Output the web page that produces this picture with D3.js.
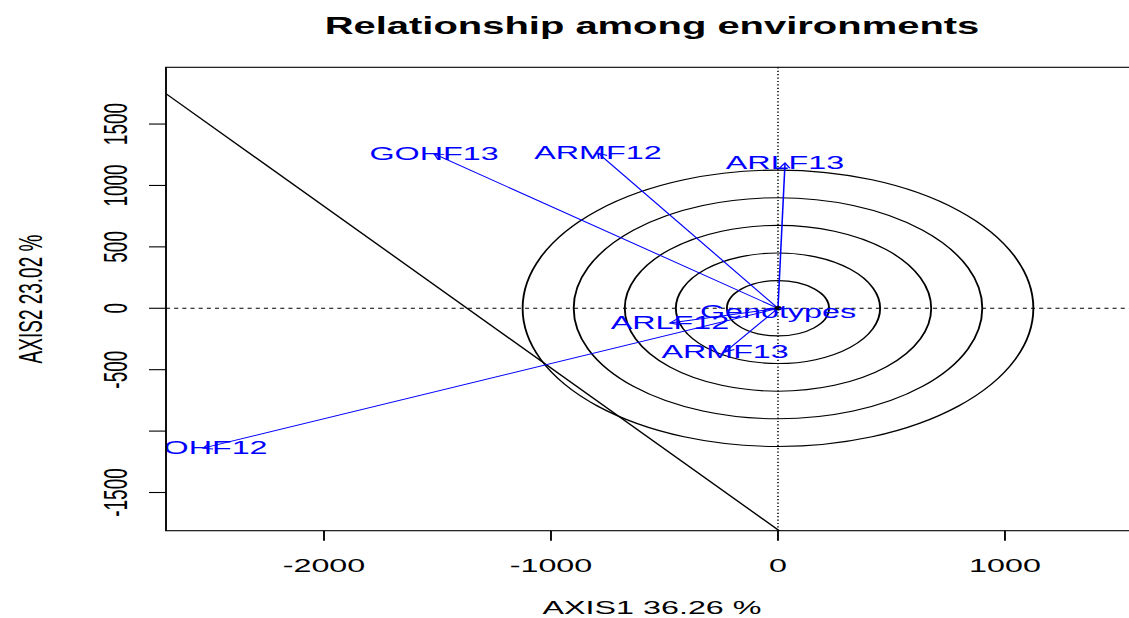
<!DOCTYPE html>
<html>
<head>
<meta charset="utf-8">
<script src="https://cdn.jsdelivr.net/npm/d3@7"></script>
<style>
  html, body { margin: 0; padding: 0; background: #fff; }
  svg { display: block; }
</style>
</head>
<body>
<div id="chart"></div>
<script>
// environment vectors (biplot coordinates)
const envNames = ["GOHF13", "ARMF12", "ARLF13", "ARLF12", "ARMF13", "GOHF12"];
const envAxis1 = [-1515, -793, 31, -476, -233, -2533];
const envAxis2 = [1257, 1265, 1183, -120, -356, -1139];

// concentric rings around the origin
const ringRadii = [225, 450, 675, 900, 1125];

// straight reference line (two points on it)
const refLineX = [-2800, 10];
const refLineY = [1884, -1817];

const xTicks = [-2000, -1000, 0, 1000];
const yTicks = [-1500, -1000, -500, 0, 500, 1000, 1500];
const yTickLabels = ["-1500", "", "-500", "0", "500", "1000", "1500"];

const xDomain = [-2696, 1586];
const yDomain = [-1811, 1962];

// the original picture is a plot stretched sideways, so draw in a narrow
// box and let the viewBox stretch it
const W = 1129, H = 618, stretch = 1.7;
const VW = W / stretch;
const font = "'Liberation Sans', Arial, sans-serif";
const blue = "#0000ff";

const plot = { left: 166 / stretch, right: 1138 / stretch, top: 67.3, bottom: 530.7 };

const x = d3.scaleLinear().domain(xDomain).range([plot.left, plot.right]);
const y = d3.scaleLinear().domain(yDomain).range([plot.bottom, plot.top]);

const svg = d3.select("#chart").append("svg")
  .attr("width", W)
  .attr("height", H)
  .attr("viewBox", [0, 0, VW, H])
  .attr("preserveAspectRatio", "none");

svg.append("defs").append("clipPath").attr("id", "plotclip")
  .append("rect")
  .attr("x", plot.left).attr("y", plot.top)
  .attr("width", plot.right - plot.left).attr("height", plot.bottom - plot.top);

const g = svg.append("g").attr("clip-path", "url(#plotclip)");

// zero lines
g.append("line")
  .attr("x1", plot.left).attr("x2", plot.right)
  .attr("y1", y(0)).attr("y2", y(0))
  .attr("stroke", "#000").attr("stroke-width", 1)
  .attr("stroke-dasharray", "2.4,2.4");
g.append("line")
  .attr("x1", x(0)).attr("x2", x(0))
  .attr("y1", plot.top).attr("y2", plot.bottom)
  .attr("stroke", "#000").attr("stroke-width", 0.9)
  .attr("stroke-dasharray", "1.2,2.2");

// rings
g.selectAll("ellipse.ring")
  .data(ringRadii)
  .join("ellipse")
  .attr("class", "ring")
  .attr("cx", x(0)).attr("cy", y(0))
  .attr("rx", r => x(r) - x(0))
  .attr("ry", r => y(0) - y(r))
  .attr("fill", "none")
  .attr("stroke", "#000")
  .attr("stroke-width", 1.1);

// reference line
g.append("line")
  .attr("x1", x(refLineX[0])).attr("y1", y(refLineY[0]))
  .attr("x2", x(refLineX[1])).attr("y2", y(refLineY[1]))
  .attr("stroke", "#000").attr("stroke-width", 1.1);

// environment vectors with small open arrowheads
const envs = envNames.map((name, i) => ({ name, a1: envAxis1[i], a2: envAxis2[i] }));

g.selectAll("line.vec")
  .data(envs)
  .join("line")
  .attr("class", "vec")
  .attr("x1", x(0)).attr("y1", y(0))
  .attr("x2", d => x(d.a1)).attr("y2", d => y(d.a2))
  .attr("stroke", blue).attr("stroke-width", 0.9);

const headLen = 6, headAng = Math.PI / 6;
g.selectAll("path.head")
  .data(envs)
  .join("path")
  .attr("class", "head")
  .attr("fill", "none")
  .attr("stroke", blue).attr("stroke-width", 0.9)
  .attr("d", d => {
    const x1 = x(0), y1 = y(0), x2 = x(d.a1), y2 = y(d.a2);
    const ang = Math.atan2(y2 - y1, x2 - x1);
    const p = d3.path();
    p.moveTo(x2 - headLen * Math.cos(ang - headAng), y2 - headLen * Math.sin(ang - headAng));
    p.lineTo(x2, y2);
    p.lineTo(x2 - headLen * Math.cos(ang + headAng), y2 - headLen * Math.sin(ang + headAng));
    return p.toString();
  });

g.selectAll("text.env")
  .data(envs)
  .join("text")
  .attr("class", "env")
  .attr("x", d => x(d.a1)).attr("y", d => y(d.a2))
  .attr("dy", "0.3em")
  .attr("text-anchor", "middle")
  .style("font", `19px ${font}`)
  .attr("fill", blue)
  .text(d => d.name);

// genotypes marker at origin
g.append("circle")
  .attr("cx", x(0)).attr("cy", y(0)).attr("r", 2.2)
  .attr("fill", "#000");
g.append("text")
  .attr("x", x(0)).attr("y", y(0))
  .attr("dy", "0.5em")
  .attr("text-anchor", "middle")
  .style("font", `19px ${font}`)
  .attr("fill", blue)
  .text("Genotypes");

// box
svg.append("rect")
  .attr("x", plot.left).attr("y", plot.top)
  .attr("width", plot.right - plot.left).attr("height", plot.bottom - plot.top)
  .attr("fill", "none").attr("stroke", "#000").attr("stroke-width", 1.1);

// x axis
const xAxis = svg.append("g");
xAxis.selectAll("line")
  .data(xTicks)
  .join("line")
  .attr("x1", d => x(d)).attr("x2", d => x(d))
  .attr("y1", plot.bottom).attr("y2", plot.bottom + 10)
  .attr("stroke", "#000").attr("stroke-width", 1.1);
xAxis.selectAll("text")
  .data(xTicks)
  .join("text")
  .attr("x", d => x(d)).attr("y", 572)
  .attr("text-anchor", "middle")
  .style("font", `19px ${font}`)
  .text(d => d);

// y axis
const yAxis = svg.append("g");
yAxis.selectAll("line")
  .data(yTicks)
  .join("line")
  .attr("x1", plot.left - 10).attr("x2", plot.left)
  .attr("y1", d => y(d)).attr("y2", d => y(d))
  .attr("stroke", "#000").attr("stroke-width", 1.1);
yAxis.selectAll("text")
  .data(yTicks)
  .join("text")
  .attr("transform", d => `translate(${127 / stretch},${y(d)}) rotate(-90)`)
  .attr("text-anchor", "middle")
  .style("font", `19px ${font}`)
  .text((d, i) => yTickLabels[i]);

// titles
svg.append("text")
  .attr("x", (plot.left + plot.right) / 2).attr("y", 34)
  .attr("text-anchor", "middle")
  .style("font", `bold 23.5px ${font}`)
  .text("Relationship among environments");

svg.append("text")
  .attr("x", (plot.left + plot.right) / 2).attr("y", 614)
  .attr("text-anchor", "middle")
  .style("font", `19px ${font}`)
  .text("AXIS1 36.26 %");

svg.append("text")
  .attr("transform", `translate(${42 / stretch},${(plot.top + plot.bottom) / 2}) rotate(-90)`)
  .attr("text-anchor", "middle")
  .style("font", `19px ${font}`)
  .text("AXIS2 23.02 %");
</script>
</body>
</html>
